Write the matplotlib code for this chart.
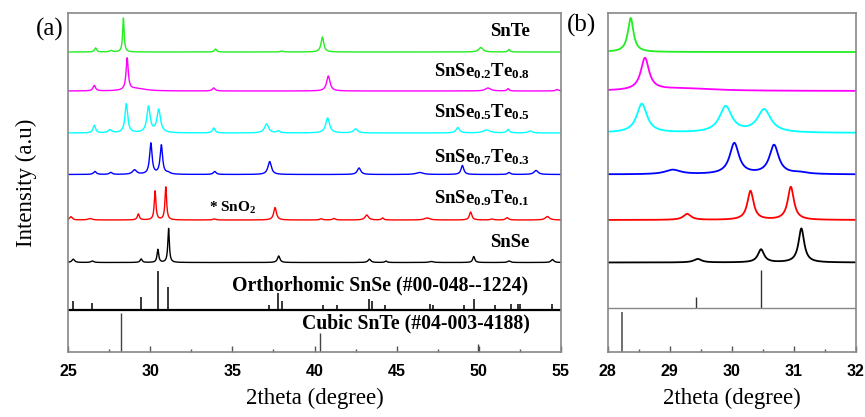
import numpy as np
import matplotlib
matplotlib.use("Agg")
import matplotlib.pyplot as plt
from matplotlib.ticker import MultipleLocator

plt.rcParams['mathtext.fontset'] = 'custom'
plt.rcParams['mathtext.rm'] = 'Liberation Serif:bold'
plt.rcParams['mathtext.bf'] = 'Liberation Serif:bold'
plt.rcParams['mathtext.it'] = 'Liberation Serif:bold:italic'

# peak tables: position (deg), height (a.u.), FWHM (deg)
snte_pos = [26.68, 27.62, 28.37, 33.98, 38.0, 40.48, 50.12, 51.84]
snte_hgt = [4, 1.5, 34, 3, 1, 15, 4.5, 2.5]
snte_wid = [0.15, 0.2, 0.11, 0.15, 0.2, 0.2, 0.3, 0.15]

s28_pos = [26.6, 28.6, 29.2, 33.87, 40.84, 50.56, 51.78, 54.76]
s28_hgt = [5.5, 32, 2.5, 3, 15, 3, 2.3, 1.5]
s28_wid = [0.18, 0.16, 1.2, 0.2, 0.25, 0.4, 0.15, 0.2]

s55_pos = [26.6, 27.55, 28.55, 29.9, 30.52, 33.87, 37.08, 37.8, 40.8, 42.5, 48.72, 50.48, 51.78, 53.12]
s55_hgt = [7.5, 3, 29, 26, 23, 5, 9, 2, 15, 4, 5.5, 3, 3.5, 2]
s55_wid = [0.18, 0.25, 0.2, 0.24, 0.26, 0.18, 0.3, 0.2, 0.28, 0.3, 0.25, 0.5, 0.2, 0.3]

s73_pos = [26.64, 27.6, 29.05, 30.04, 30.68, 31.1, 33.93, 37.27, 42.71, 46.4, 49.0, 51.84, 53.48]
s73_hgt = [3, 2, 4.5, 31, 29, 1.5, 3, 13, 6.5, 2, 9, 2, 4]
s73_wid = [0.2, 0.2, 0.3, 0.18, 0.18, 0.3, 0.2, 0.25, 0.25, 0.5, 0.2, 0.2, 0.3]

s91_pos = [25.18, 26.34, 29.28, 30.3, 30.95, 33.9, 37.6, 40.4, 41.19, 43.18, 44.15, 46.85, 49.5, 50.8, 51.72, 54.17]
s91_hgt = [3.3, 1.5, 6, 29, 33, 1, 12.5, 1.2, 1.5, 5, 2, 2, 8, 1, 2.3, 3.5]
s91_wid = [0.2, 0.3, 0.15, 0.12, 0.12, 0.2, 0.2, 0.2, 0.2, 0.25, 0.15, 0.4, 0.18, 0.2, 0.2, 0.3]

snse_pos = [25.32, 26.48, 29.45, 30.47, 31.12, 37.82, 43.34, 44.35, 47.1, 49.69, 51.84, 54.48]
snse_hgt = [3.3, 1.5, 3.5, 13, 34, 6.5, 3.3, 1.5, 1, 6, 1.5, 3]
snse_wid = [0.2, 0.2, 0.15, 0.12, 0.11, 0.18, 0.2, 0.15, 0.3, 0.15, 0.2, 0.2]

# reference cards
ortho_pos = [25.3, 26.44, 29.42, 30.46, 31.07, 37.25, 37.8, 38.0, 40.54, 41.35, 43.34, 43.48,
             44.3, 47.03, 47.2, 49.1, 49.7, 51.0, 51.96, 52.4, 52.5, 54.43]
ortho_hgt = [9, 7, 13, 39, 23, 5, 17, 9, 5, 5, 11, 9, 5, 6, 5, 5, 11, 5, 6, 6, 6, 6]
cubic_pos = [28.23, 40.34, 49.95]
cubic_hgt = [39, 19, 8]
ortho_b_pos = [29.42, 30.47]
ortho_b_hgt = [11, 38]
cubic_b_pos = [28.23]
cubic_b_hgt = [40]

series = [
    (snte_pos, snte_hgt, snte_wid, 300, '#22ee22', 'SnTe'),
    (s28_pos, s28_hgt, s28_wid, 261, '#ff00ff', 'SnSe$_{0.2}$Te$_{0.8}$'),
    (s55_pos, s55_hgt, s55_wid, 219, '#00ffff', 'SnSe$_{0.5}$Te$_{0.5}$'),
    (s73_pos, s73_hgt, s73_wid, 177.5, '#0000ff', 'SnSe$_{0.7}$Te$_{0.3}$'),
    (s91_pos, s91_hgt, s91_wid, 132, '#ff0000', 'SnSe$_{0.9}$Te$_{0.1}$'),
    (snse_pos, snse_hgt, snse_wid, 89.5, '#000000', 'SnSe'),
]
label_y = [316, 276, 235, 190, 149, 105]
ortho_base = 42


def profile(x, pos, hgt, wid):
    y = np.zeros_like(x)
    for p, h, w in zip(pos, hgt, wid):
        y += h / (1 + ((x - p) / (w / 2)) ** 2)
    return y


fig = plt.figure(figsize=(8.65, 4.17), dpi=100)
ax1 = fig.add_axes([68 / 865, 65 / 417, 493 / 865, 339 / 417])
ax2 = fig.add_axes([607.7 / 865, 65 / 417, 248.3 / 865, 339 / 417])

xa = np.linspace(25, 55, 8000)
xb = np.linspace(28, 32, 3000)
for pos, hgt, wid, base, col, lab in series:
    ax1.plot(xa, base + profile(xa, pos, hgt, wid), color=col, lw=1.0)
    ax2.plot(xb, base + profile(xb, pos, hgt, wid), color=col, lw=1.3)

for lab, ly in zip([s[5] for s in series], label_y):
    ax1.text(53.1, ly, lab, ha='right', va='baseline', fontsize=13.5,
             family='Liberation Serif', weight='bold')

ax1.text(33.6, 140, '* SnO$_2$', ha='left', va='baseline', fontsize=11,
         family='Liberation Serif', weight='bold')

# stick patterns
ax1.vlines(ortho_pos, ortho_base, np.array(ortho_hgt) + ortho_base, color='black', lw=1.1)
ax1.axhline(ortho_base, color='black', lw=1.6)
ax1.vlines(cubic_pos, 0, cubic_hgt, color='#444444', lw=1.0)
ax1.text(53.0, 62, 'Orthorhomic SnSe (#00-048--1224)', ha='right', va='baseline',
         fontsize=14.2, family='Liberation Serif', weight='bold')
ax1.text(53.1, 24, 'Cubic SnTe (#04-003-4188)', ha='right', va='baseline',
         fontsize=14.2, family='Liberation Serif', weight='bold')

ax2.vlines(ortho_b_pos, ortho_base + 2, np.array(ortho_b_hgt) + ortho_base + 2, color='#333333', lw=1.0)
ax2.axhline(ortho_base + 2, color='#888888', lw=1.0)
ax2.vlines(cubic_b_pos, 0, cubic_b_hgt, color='#555555', lw=1.2)

ax1.set_xlim(25, 55)
ax2.set_xlim(28, 32)
ax1.xaxis.set_major_locator(MultipleLocator(5))
ax1.xaxis.set_minor_locator(MultipleLocator(2.5))
ax2.xaxis.set_major_locator(MultipleLocator(1))
ax2.xaxis.set_minor_locator(MultipleLocator(0.5))
for ax in (ax1, ax2):
    ax.set_ylim(0, 339)
    ax.set_yticks([])
    for sp in ax.spines.values():
        sp.set_color('#888888')
        sp.set_linewidth(1.2)
    ax.tick_params(axis='x', direction='in', length=4, width=1, color='#555555', pad=9)
    ax.tick_params(axis='x', which='minor', direction='in', length=2.5, width=1, color='#555555')
    for t in ax.get_xticklabels():
        t.set_family('Liberation Sans')
        t.set_weight('bold')
        t.set_fontsize(11.5)
    ax.set_xlabel('2theta (degree)', family='Liberation Serif', fontsize=16.5, labelpad=6)

ax1.set_ylabel('Intensity (a.u)', family='Liberation Serif', fontsize=16.5, labelpad=22)

fig.text(36 / 865, 1 - 29 / 417, '(a)', ha='left', va='center', fontsize=18, family='Liberation Serif')
fig.text(567 / 865, 1 - 25 / 417, '(b)', ha='left', va='center', fontsize=18, family='Liberation Serif')

fig.savefig('out.png', dpi=100)
